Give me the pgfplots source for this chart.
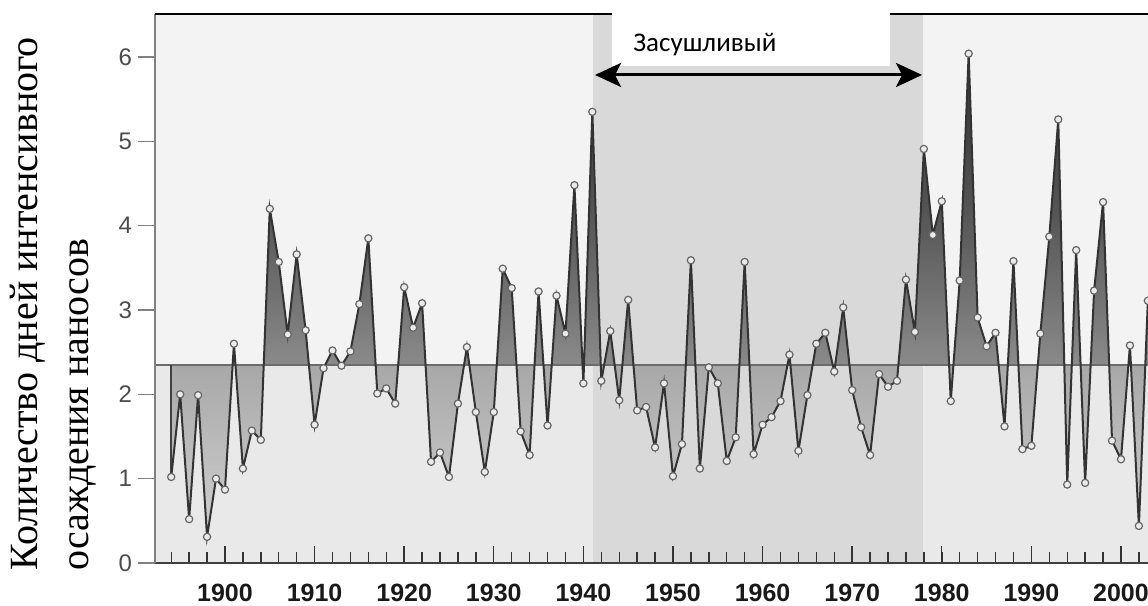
\documentclass[border=0pt]{standalone}
\usepackage{fontspec}
\setmainfont{Liberation Serif}
\newfontfamily\ticksans{Liberation Sans}
\newfontfamily\notefont{Carlito}
\usepackage{pgfplots}
\usepackage{pgfplotstable}
\pgfplotsset{compat=1.18}
\usetikzlibrary{arrows.meta}

\definecolor{bgup}{HTML}{F3F3F3}
\definecolor{bgdown}{HTML}{E9E9E9}
\definecolor{drought}{HTML}{D9D9D9}
\definecolor{lobeA}{HTML}{D0D0D0}
\definecolor{lobeB}{HTML}{A8A8A8}
\definecolor{lobeBB}{HTML}{8A8A8A}
\definecolor{lobeC}{HTML}{545454}
\definecolor{lobeD}{HTML}{323232}

% vertical ramp over the span of the series (0.31 ... 6.04):
% light below the mean of 2.35, dark towards the highest years
\pgfdeclareverticalshading{lobes}{100bp}{%
  color(0bp)=(lobeA); color(25bp)=(lobeA); color(42.8bp)=(lobeB);
  color(42.85bp)=(lobeBB); color(58.9bp)=(lobeC); color(75bp)=(lobeD);
  color(100bp)=(lobeD)}

% annual number of heavy-precipitation days
\pgfplotstableread{
year days
1894 1.02
1895 2.00
1896 0.52
1897 1.99
1898 0.31
1899 1.00
1900 0.87
1901 2.60
1902 1.12
1903 1.57
1904 1.46
1905 4.20
1906 3.57
1907 2.71
1908 3.66
1909 2.76
1910 1.64
1911 2.31
1912 2.52
1913 2.34
1914 2.51
1915 3.07
1916 3.85
1917 2.01
1918 2.07
1919 1.89
1920 3.27
1921 2.79
1922 3.08
1923 1.20
1924 1.31
1925 1.02
1926 1.89
1927 2.56
1928 1.79
1929 1.08
1930 1.79
1931 3.49
1932 3.26
1933 1.56
1934 1.28
1935 3.22
1936 1.63
1937 3.17
1938 2.72
1939 4.48
1940 2.13
1941 5.35
1942 2.16
1943 2.75
1944 1.93
1945 3.12
1946 1.81
1947 1.85
1948 1.37
1949 2.13
1950 1.03
1951 1.41
1952 3.59
1953 1.12
1954 2.32
1955 2.13
1956 1.21
1957 1.49
1958 3.57
1959 1.29
1960 1.64
1961 1.73
1962 1.92
1963 2.47
1964 1.33
1965 1.99
1966 2.60
1967 2.73
1968 2.27
1969 3.03
1970 2.05
1971 1.61
1972 1.28
1973 2.24
1974 2.09
1975 2.16
1976 3.36
1977 2.74
1978 4.91
1979 3.89
1980 4.29
1981 1.92
1982 3.35
1983 6.04
1984 2.91
1985 2.57
1986 2.73
1987 1.62
1988 3.58
1989 1.35
1990 1.39
1991 2.72
1992 3.87
1993 5.26
1994 0.93
1995 3.71
1996 0.95
1997 3.23
1998 4.28
1999 1.45
2000 1.23
2001 2.58
2002 0.44
2003 3.11
}\heavydays

\begin{document}
\begin{tikzpicture}
% y-axis title, two lines set flush at the bottom
\node[rotate=90, anchor=base west, inner sep=0pt,
      font=\fontsize{20bp}{24bp}\selectfont] at (18.5bp,17.5bp)
      {Количество дней интенсивного};
\node[rotate=90, anchor=base west, inner sep=0pt,
      font=\fontsize{20bp}{24bp}\selectfont] at (44bp,17.5bp)
      {осаждения наносов};

\begin{axis}[
  at={(77.5bp,21.5bp)}, anchor=south west,
  scale only axis, width=518.83bp, height=274.5bp,
  xmin=1892.19, xmax=2008, ymin=0, ymax=6.51,
  axis on top,
  axis x line*=bottom, axis y line*=left,
  x axis line style={draw=black!75, line width=1bp},
  y axis line style={draw=black!50, line width=1bp},
  xtick={1900,1910,...,2000},
  minor xtick={1894,1896,...,2002},
  ytick={0,1,...,6},
  tick align=inside,
  major tick length=8.5bp, minor tick length=5.5bp,
  x tick style={draw=black!80, line width=0.7bp},
  y tick style={draw=black!50, line width=0.7bp, xshift=-8.5bp},
  /pgf/number format/assume math mode=true,
  /pgf/number format/1000 sep={},
  xticklabel style={font=\ticksans\bfseries\fontsize{12.5bp}{15bp}\selectfont,
                    text=black!90, yshift=-7bp},
  yticklabel style={font=\ticksans\fontsize{12bp}{14bp}\selectfont,
                    text=black!70, xshift=-8bp},
]
% plot background and the dry period 1941--1978
\fill[bgup] (axis cs:1892.19,2.35) rectangle (axis cs:2008,6.51);
\fill[bgdown] (axis cs:1892.19,0) rectangle (axis cs:2008,2.35);
\fill[drought] (axis cs:1941.04,0) rectangle (axis cs:1977.9,6.51);

% deviations from the long-term mean, closed along the mean line
\addplot[draw=none, shade, shading=lobes, forget plot]
  table[x=year, y=days] {\heavydays}
  -- (axis cs:2003,2.35) -- (axis cs:1894,2.35) -- cycle;

% long-term mean
\addplot[draw=black!58, line width=1.2bp] coordinates {(1892.19,2.35) (2008,2.35)};
\addplot[draw=black!75, line width=0.8bp] coordinates {(1894,2.35) (1894,1.02)};

% annual series
\addplot[draw=black!80, line width=1bp, mark=*, mark size=1.8bp,
         mark options={fill=white!92!black, draw=black!60, line width=0.6bp}]
  table[x=year, y=days] {\heavydays};

\coordinate (topL) at (axis cs:1892.19,6.51);
\coordinate (topR) at (axis cs:2008,6.51);
\coordinate (boxL) at (axis cs:1943.19,5.894);
\coordinate (boxR) at (axis cs:1974.22,6.8);
\coordinate (txt)  at (axis cs:1945.54,6.06);
\coordinate (arrL) at (axis cs:1941.3,5.787);
\coordinate (arrR) at (axis cs:1977.8,5.787);
\end{axis}

% frame top, caption box and span arrow
\draw[black, line width=1bp] (topL) -- (topR);
\fill[white] (boxL) rectangle (boxR);
\node[anchor=base west, inner sep=0pt, font=\notefont\fontsize{13.5bp}{16bp}\selectfont]
  at (txt) {Засушливый};
\draw[line width=1.5bp, {Stealth[length=13bp,width=12bp,inset=3bp]}-{Stealth[length=13bp,width=12bp,inset=3bp]}]
  (arrL) -- (arrR);
\pgfresetboundingbox
\path[use as bounding box] (0,0) rectangle (574bp,303bp);
\end{tikzpicture}
\end{document}
